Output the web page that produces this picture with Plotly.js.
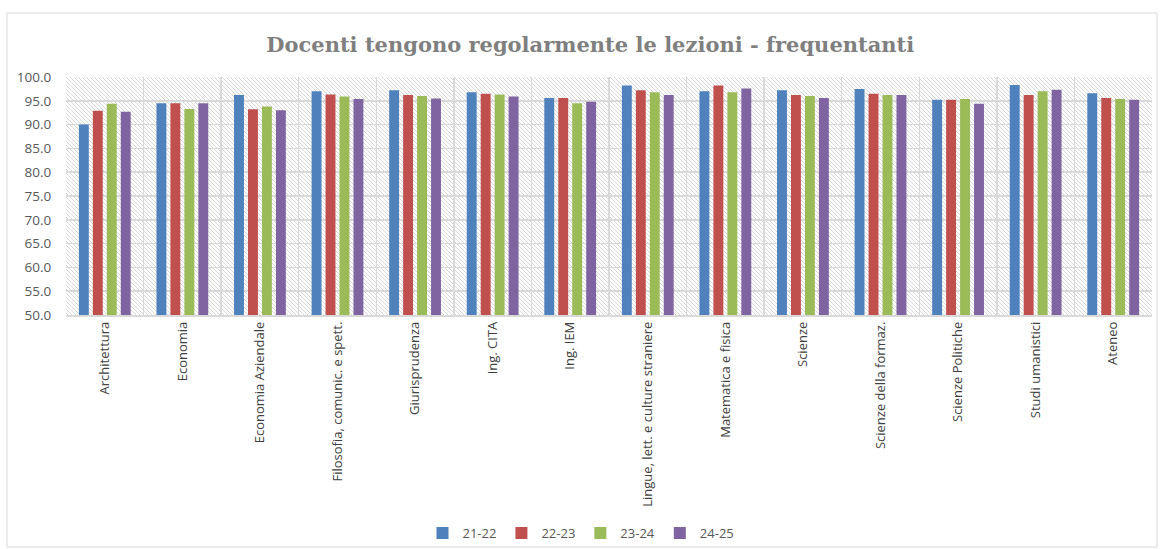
<!DOCTYPE html>
<html>
<head>
<meta charset="utf-8">
<script src="https://cdn.plot.ly/plotly-3.0.1.min.js"></script>
<style>html,body{margin:0;padding:0;background:#fff}#chart{width:1162px;height:549px}</style>
</head>
<body>
<div id="chart"></div>
<script>
const categories = ["Architettura","Economia","Economia Aziendale","Filosofia, comunic. e spett.","Giurisprudenza","Ing. CITA","Ing. IEM","Lingue, lett. e culture straniere","Matematica e fisica","Scienze","Scienze della formaz.","Scienze Politiche","Studi umanistici","Ateneo"];
const seriesNames = ["21-22","22-23","23-24","24-25"];
const s2122 = [90.0,94.5,96.2,97.0,97.2,96.8,95.6,98.2,97.0,97.2,97.5,95.2,98.3,96.6];
const s2223 = [92.9,94.5,93.2,96.3,96.2,96.5,95.6,97.2,98.2,96.2,96.5,95.2,96.2,95.6];
const s2324 = [94.4,93.3,93.8,95.9,96.0,96.3,94.5,96.8,96.8,96.0,96.2,95.4,97.0,95.4];
const s2425 = [92.7,94.5,93.0,95.4,95.5,95.9,94.8,96.2,97.6,95.6,96.2,94.4,97.3,95.2];
const colors = ["#4F81BD","#C0504D","#9BBB59","#8064A2"];
const yTicks = [50,55,60,65,70,75,80,85,90,95,100];

const allSeries = [s2122,s2223,s2324,s2425];
const traces = allSeries.map((vals,i)=>({
  type:"bar", name:seriesNames[i], x:categories, y:vals,
  marker:{color:colors[i]}, hoverinfo:"x+y"
}));

const W = 1086, H = 238;
let svg = '<svg xmlns="http://www.w3.org/2000/svg" width="'+W+'" height="'+H+'"><defs><pattern id="p" width="4" height="4" patternUnits="userSpaceOnUse"><path d="M-1,-1 L5,5 M-1,3 L1,5 M3,-1 L5,1" stroke="#d4d4d4" stroke-width="0.9"/></pattern></defs><rect width="'+W+'" height="'+H+'" fill="#ffffff"/><rect width="'+W+'" height="'+H+'" fill="url(#p)"/></svg>';
const hatch = 'data:image/svg+xml;charset=utf-8,' + encodeURIComponent(svg);

const layout = {
  width:1162, height:549,
  margin:{l:66, r:10, t:77, b:234, pad:0},
  paper_bgcolor:"#ffffff", plot_bgcolor:"rgba(0,0,0,0)",
  title:{text:"Docenti tengono regolarmente le lezioni - frequentanti",
    font:{family:"DejaVu Serif, serif", size:21, color:"#7f7f7f", weight:"bold"},
    x:0.508, xanchor:"center", y:0.918, yanchor:"middle"},
  barmode:"group", bargap:0.28, bargroupgap:0.29,
  xaxis:{type:"category", tickson:"boundaries", showgrid:true, gridcolor:"#d9d9d9", gridwidth:1.5,
    ticks:"outside", ticklen:8, tickcolor:"rgba(0,0,0,0)", tickangle:-90,
    tickfont:{family:"Open Sans, sans-serif", size:13, color:"#404040"},
    showline:true, linecolor:"#d9d9d9", linewidth:1.5, mirror:false, automargin:false},
  yaxis:{range:[50,100], tickvals:yTicks, ticktext:yTicks.map(v=>v.toFixed(1)),
    showgrid:true, gridcolor:"#d9d9d9", gridwidth:1.5, zeroline:false,
    ticks:"outside", ticklen:11, tickcolor:"rgba(0,0,0,0)",
    tickfont:{family:"Open Sans, sans-serif", size:13.5, color:"#595959"}, showline:false, automargin:false},
  legend:{orientation:"h", x:0.5, xref:"container", xanchor:"center", y:0.029, yref:"container", yanchor:"middle",
    bgcolor:"rgba(0,0,0,0)",
    font:{family:"Open Sans, sans-serif", size:13, color:"#595959"}, traceorder:"normal", itemwidth:30},
  images:[{source:hatch, xref:"paper", yref:"paper", x:0, y:1, sizex:1, sizey:1,
    sizing:"stretch", xanchor:"left", yanchor:"top", layer:"below"}],
  shapes:[{type:"rect", xref:"paper", yref:"paper", x0:-0.0543, x1:1.0046, y0:-0.975, y1:1.269,
    line:{color:"#d9d9d9", width:1}, fillcolor:"rgba(0,0,0,0)", layer:"below"}],
  showlegend:true
};

Plotly.newPlot("chart", traces, layout, {displayModeBar:false, staticPlot:true});
</script>
</body>
</html>
